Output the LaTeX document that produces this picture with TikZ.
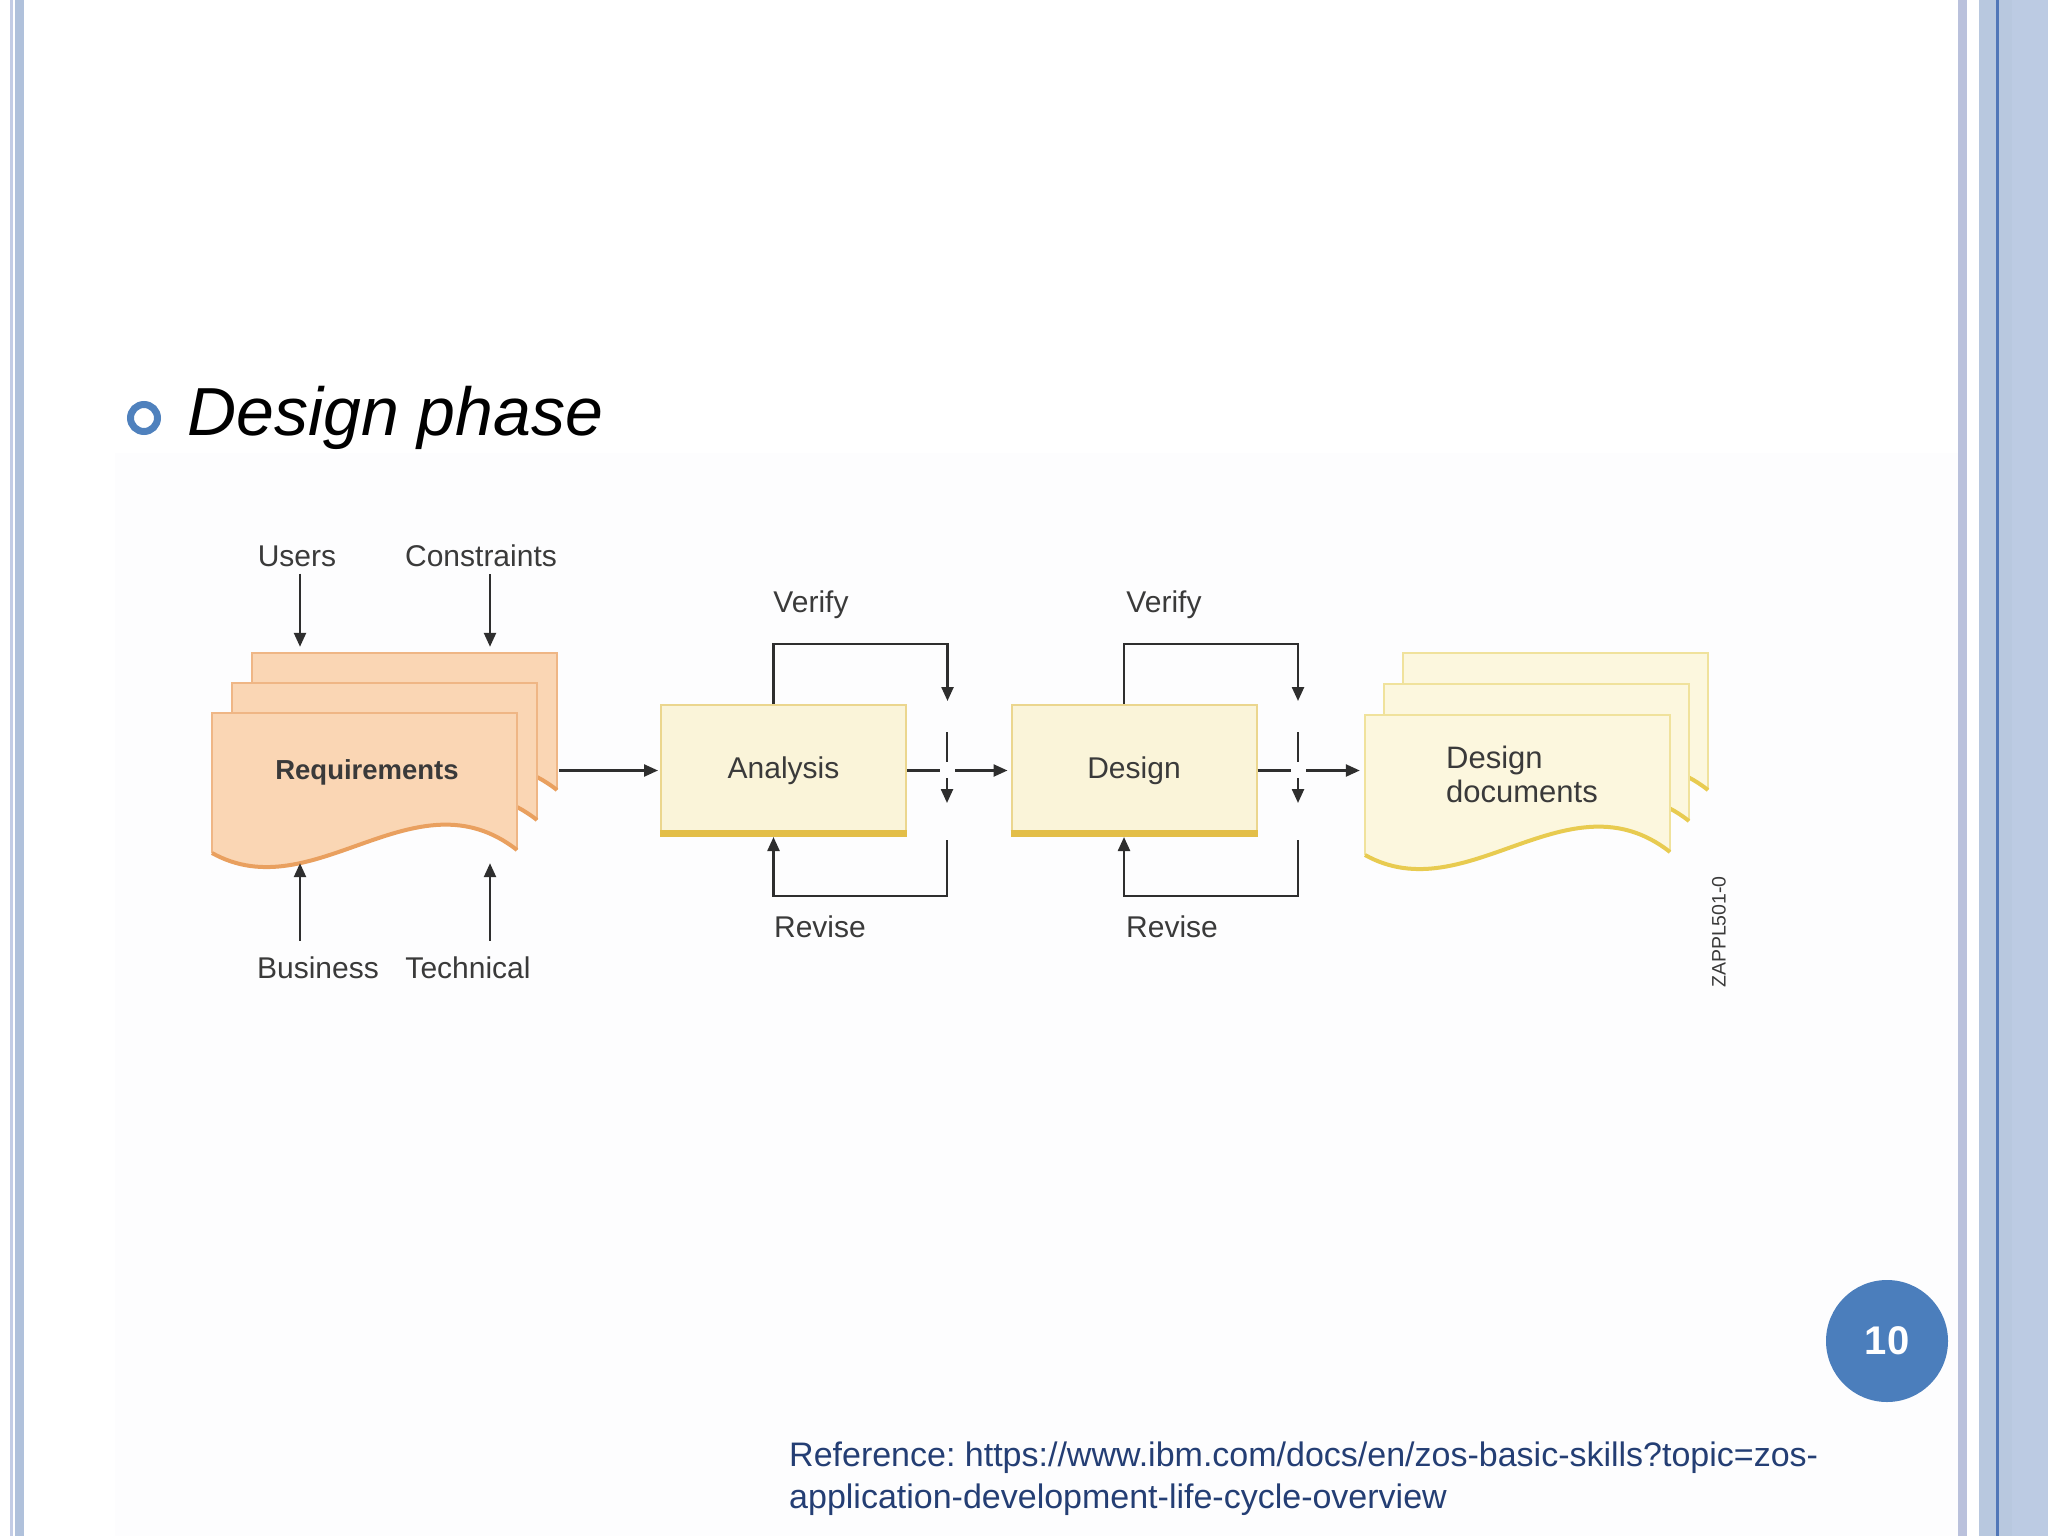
\documentclass[tikz,border=0pt]{standalone}
\usepackage{fontspec}
\setmainfont{Liberation Sans}
\frenchspacing
\usetikzlibrary{arrows.meta}
\definecolor{frameA}{HTML}{C3CCE5}
\definecolor{frameB}{HTML}{B0C1DB}
\definecolor{frameLav}{HTML}{BAC1DC}
\definecolor{frameC}{HTML}{B8C8DF}
\definecolor{frameD}{HTML}{BCCBE3}
\definecolor{frameDark}{HTML}{5177B8}
\definecolor{panel}{HTML}{FDFDFE}
\definecolor{bulletblue}{HTML}{4F81BD}
\definecolor{pagenum}{HTML}{4B7EBC}
\definecolor{refblue}{HTML}{243E74}
\definecolor{arrowc}{HTML}{2E2E2E}
\definecolor{labelc}{HTML}{3A3A3A}
\definecolor{peachfill}{HTML}{FAD6B4}
\definecolor{peachedge}{HTML}{EFB685}
\definecolor{peachwave}{HTML}{E9A05F}
\definecolor{creamfill}{HTML}{FCF7DE}
\definecolor{creamedge}{HTML}{F0E29C}
\definecolor{creamwave}{HTML}{E8CB50}
\definecolor{boxfill}{HTML}{FAF4D9}
\definecolor{boxedge}{HTML}{EBD68E}
\definecolor{boxgold}{HTML}{E3BE48}
\newcommand\docpg[5]{%
  \begin{scope}[shift={(#1,#2)}]
    \fill[#3] (0,0) -- (305,0) -- (305,137) .. controls (203,57) and (102,197) .. (0,140) -- cycle;
    \draw[#4, line width=2pt] (0,140) -- (0,0) -- (305,0) -- (305,137);
    \draw[#5, line width=4pt] (305,137) .. controls (203,57) and (102,197) .. (0,140);
  \end{scope}}
\tikzset{
  lbl/.style={font=\fontsize{30}{34}\selectfont, inner sep=0pt, text=labelc},
  arr/.style={draw=arrowc, line width=2.4pt, -{Triangle[length=14pt,width=12pt]}},
  phase/.style={draw=boxedge, line width=2pt, fill=boxfill, minimum width=245pt, minimum height=131pt, inner sep=0pt},
  ghost/.style={inner sep=0pt}
}
\begin{document}
\begin{tikzpicture}[x=1pt,y=-1pt]
\useasboundingbox (0,0) rectangle (2048,1536);
\fill[white] (0,0) rectangle (2048,1536);
\fill[panel] (115,453) rectangle (1958,1536);
% frame
\fill[frameA] (10,0) rectangle (12.5,1536);
\fill[frameB] (15,0) rectangle (23.5,1536);
\fill[frameLav] (1958,0) rectangle (1967,1536);
\fill[frameC] (1979,0) rectangle (2048,1536);
\fill[frameD] (2012,0) rectangle (2048,1536);
\fill[frameDark] (1996,0) rectangle (1998.5,1536);
% title
\draw[bulletblue, line width=7pt] (144,418) circle [radius=13.5pt];
\node[anchor=base west, inner sep=0pt, font=\itshape\fontsize{68}{80}\selectfont] (title) at (187,435) {Design phase};
% requirement pages
\docpg{252}{653}{peachfill}{peachedge}{peachwave}
\docpg{232}{683}{peachfill}{peachedge}{peachwave}
\docpg{212}{713}{peachfill}{peachedge}{peachwave}
\node[ghost, minimum width=347pt, minimum height=215pt] (reqstack) at (385.5,760.5) {};
\node[font=\bfseries\fontsize{27.5}{32}\selectfont, inner sep=0pt, text=labelc] (req) at (367,772) {Requirements};
% design document pages
\docpg{1403}{653}{creamfill}{creamedge}{creamwave}
\docpg{1384}{684}{creamfill}{creamedge}{creamwave}
\docpg{1365}{715}{creamfill}{creamedge}{creamwave}
\node[ghost, minimum width=345pt, minimum height=210pt] (ddstack) at (1537.5,758) {};
\node[lbl, anchor=west, align=left, font=\fontsize{31}{34}\selectfont] (dd) at (1446,774) {Design\\documents};
% phase boxes
\node[phase] (ana) at (783.5,770.5) {};
\node[phase] (des) at (1134,770.5) {};
\draw[boxgold, line width=7pt] ([yshift=3.5pt]ana.south west) -- ([yshift=3.5pt]ana.south east);
\draw[boxgold, line width=7pt] ([yshift=3.5pt]des.south west) -- ([yshift=3.5pt]des.south east);
\node[lbl] (anat) at (ana.center) {Analysis};
\node[lbl] (dest) at (des.center) {Design};
% labels
\node[lbl] (users) at (297,556) {Users};
\node[lbl] (cons) at (481,556) {Constraints};
\node[lbl] (bus) at (318,968) {Business};
\node[lbl] (tech) at (468,968) {Technical};
\node[lbl] (ver1) at (811,605) {Verify};
\node[lbl] (rev1) at (820,927) {Revise};
\node[lbl] (ver2) at (1164,605) {Verify};
\node[lbl] (rev2) at (1172,927) {Revise};
\node[inner sep=0pt, rotate=90, font=\fontsize{19.5}{22}\selectfont, text=labelc] (zid) at (1719,932) {ZAPPL501-0};
% input arrows
\draw[arr, shorten <=7pt, shorten >=6pt] ([xshift=3pt]users.south) -- ([xshift=3pt]users.south |- reqstack.north);
\draw[arr, shorten <=7pt, shorten >=6pt] ([xshift=9pt]cons.south) -- ([xshift=9pt]cons.south |- reqstack.north);
\draw[arr, shorten <=16pt, shorten >=-5pt] ([xshift=-18pt]bus.north) -- ([xshift=-18pt]bus.north |- reqstack.south);
\draw[arr, shorten <=16pt, shorten >=-5pt] ([xshift=22pt]tech.north) -- ([xshift=22pt]tech.north |- reqstack.south);
% main flow
\draw[arr, shorten >=2pt] (reqstack.east |- ana.west) -- (ana.west);
\draw[arr, shorten >=3pt] (ana.east) -- (des.west);
\draw[arr, shorten >=5pt] (des.east) -- (ddstack.west |- des.east);
% verify / revise loops
\coordinate (a1) at (947,732);
\coordinate (a2) at (947,803);
\coordinate (a3) at (947,840);
\coordinate (d1) at (1298,732);
\coordinate (d2) at (1298,803);
\coordinate (d3) at (1298,840);
\draw[arr] ([xshift=-10pt]ana.north) |- ++(174,-60) -- ++(0,57);
\draw[arr] (a1) -- (a2);
\draw[arr] (a3) |- ([xshift=-10pt, yshift=-59pt]ana.south) -- ([xshift=-10pt]ana.south);
\draw[arr] ([xshift=-10pt]des.north) |- ++(174,-60) -- ++(0,57);
\draw[arr] (d1) -- (d2);
\draw[arr] (d3) |- ([xshift=-10pt, yshift=-59pt]des.south) -- ([xshift=-10pt]des.south);
% crossing gaps
\fill[panel] (940,762) rectangle (955,778);
\fill[panel] (1291,762) rectangle (1306,778);
% page number and reference
\node[circle, fill=pagenum, minimum size=122pt, inner sep=0pt, text=white, font=\bfseries\fontsize{40}{48}\selectfont] (pg) at (1887,1341) {10};
\node[anchor=base west, inner sep=0pt, text=refblue, font=\fontsize{34}{40}\selectfont] (ref1) at (789,1466) {Reference: https://www.ibm.com/docs/en/zos-basic-skills?topic=zos-};
\node[anchor=base west, inner sep=0pt, text=refblue, font=\fontsize{34}{40}\selectfont] (ref2) at (789,1508) {application-development-life-cycle-overview};
\end{tikzpicture}
\end{document}
